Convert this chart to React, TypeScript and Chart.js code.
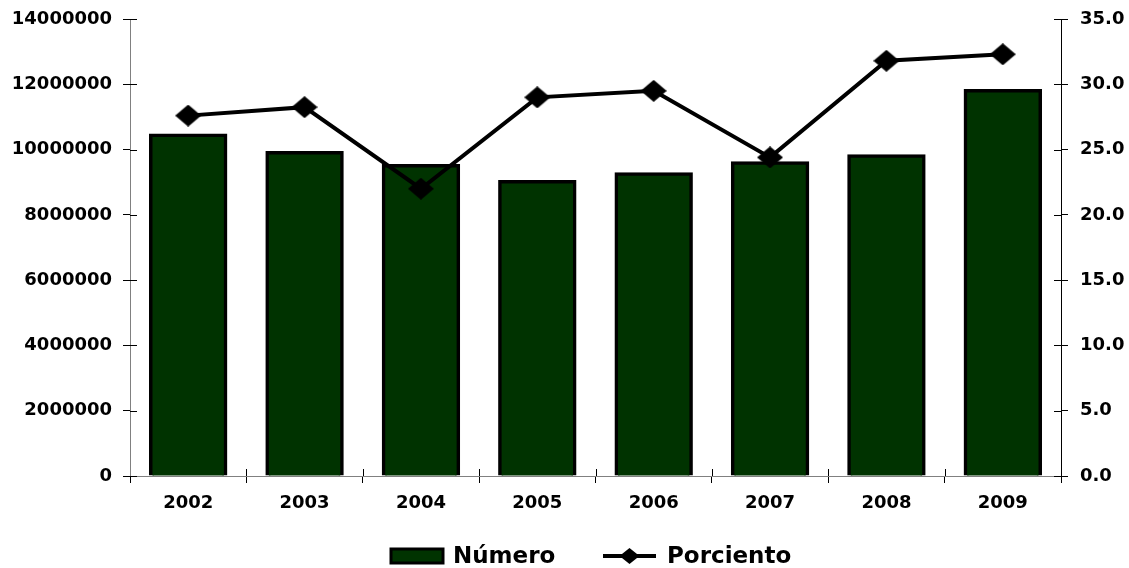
import React, { useEffect, useRef } from 'react';
import { Chart, registerables } from 'chart.js';
Chart.register(...registerables);

const categories = ['2002', '2003', '2004', '2005', '2006', '2007', '2008', '2009'];
const numero = [10470000, 9930000, 9530000, 9040000, 9280000, 9620000, 9830000, 11830000];
const porciento = [27.6, 28.25, 22.0, 29.0, 29.5, 24.4, 31.8, 32.3];
const seriesNames = ['Número', 'Porciento'];

const BAR_COLOR = '#003300';
const FONT = 'DejaVu Sans';

function makeDiamond(w: number, h: number) {
  const c = document.createElement('canvas');
  c.width = w;
  c.height = h;
  const ctx = c.getContext('2d')!;
  ctx.fillStyle = '#000';
  ctx.beginPath();
  ctx.moveTo(w / 2, 0);
  ctx.lineTo(w, h / 2);
  ctx.lineTo(w / 2, h);
  ctx.lineTo(0, h / 2);
  ctx.closePath();
  ctx.fill();
  return c;
}

const innerTicks = {
  id: 'innerTicks',
  afterDraw(chart: any) {
    const { ctx, chartArea } = chart;
    const y = chart.scales.y;
    const y1 = chart.scales.y1;
    const x = chart.scales.x;
    ctx.save();
    ctx.strokeStyle = '#000';
    ctx.lineWidth = 1;
    y.ticks.forEach((t: any) => {
      const py = Math.round(y.getPixelForValue(t.value)) + 0.5;
      ctx.beginPath();
      ctx.moveTo(chartArea.left, py);
      ctx.lineTo(chartArea.left + 7, py);
      ctx.stroke();
    });
    y1.ticks.forEach((t: any) => {
      const py = Math.round(y1.getPixelForValue(t.value)) + 0.5;
      ctx.beginPath();
      ctx.moveTo(chartArea.right - 7, py);
      ctx.lineTo(chartArea.right, py);
      ctx.stroke();
    });
    const n = categories.length;
    for (let i = 1; i < n; i++) {
      const px = Math.round((x.getPixelForValue(i - 1) + x.getPixelForValue(i)) / 2) + 0.5;
      ctx.beginPath();
      ctx.moveTo(px, chartArea.bottom - 7);
      ctx.lineTo(px, chartArea.bottom);
      ctx.stroke();
    }
    ctx.restore();
  },
};

const customLegend = {
  id: 'customLegend',
  afterDraw(chart: any) {
    const { ctx } = chart;
    const cy = 556;
    ctx.save();
    const x0 = 391;
    ctx.fillStyle = BAR_COLOR;
    ctx.fillRect(x0, cy - 7, 52, 14);
    ctx.strokeStyle = '#000';
    ctx.lineWidth = 3;
    ctx.strokeRect(x0, cy - 7, 52, 14);
    ctx.font = `bold 23px "${FONT}"`;
    ctx.fillStyle = '#000';
    ctx.textBaseline = 'middle';
    ctx.textAlign = 'left';
    ctx.fillText(seriesNames[0], x0 + 62, cy + 1);
    const lx = 603;
    ctx.beginPath();
    ctx.moveTo(lx, cy);
    ctx.lineTo(lx + 53, cy);
    ctx.lineWidth = 4;
    ctx.stroke();
    ctx.beginPath();
    const dx = lx + 26.5;
    ctx.moveTo(dx, cy - 8);
    ctx.lineTo(dx + 10, cy);
    ctx.lineTo(dx, cy + 8);
    ctx.lineTo(dx - 10, cy);
    ctx.closePath();
    ctx.fill();
    ctx.fillText(seriesNames[1], lx + 64, cy + 1);
    ctx.restore();
  },
};

export default function App() {
  const ref = useRef<HTMLCanvasElement>(null);
  useEffect(() => {
    const diamond = makeDiamond(26, 22);
    const tickFont = { family: FONT, size: 18, weight: 'bold' as const };
    const fitY = (w: number) => (s: any) => {
      s.width = w;
      s.paddingTop = 0;
      s.paddingBottom = 0;
    };
    const chart = new Chart(ref.current!, {
      type: 'bar',
      data: {
        labels: categories,
        datasets: [
          {
            type: 'line',
            label: seriesNames[1],
            data: porciento,
            yAxisID: 'y1',
            borderColor: '#000',
            borderWidth: 4,
            pointStyle: diamond as any,
            pointRadius: 12,
            backgroundColor: '#000',
            order: 1,
          } as any,
          {
            type: 'bar',
            label: seriesNames[0],
            data: numero,
            yAxisID: 'y',
            backgroundColor: BAR_COLOR,
            borderColor: '#000',
            borderWidth: 3.5,
            inflateAmount: 0.8,
            categoryPercentage: 1,
            barPercentage: 0.66,
            order: 2,
          } as any,
        ],
      },
      options: {
        responsive: false,
        animation: false,
        layout: { padding: { top: 19, bottom: 52, left: 0, right: 0 } },
        plugins: { legend: { display: false }, tooltip: { enabled: false } },
        scales: {
          x: {
            grid: { drawOnChartArea: false, tickLength: 7, color: '#000', offset: true },
            border: { color: '#808080', width: 1 },
            ticks: { font: tickFont, color: '#000', padding: 10 },
            afterFit: (s: any) => { s.height = 40; s.paddingLeft = 0; s.paddingRight = 0; },
          },
          y: {
            position: 'left',
            min: 0,
            max: 14000000,
            grid: { drawOnChartArea: false, tickLength: 7, color: '#000' },
            border: { color: '#808080', width: 1 },
            ticks: { stepSize: 2000000, font: tickFont, color: '#000', padding: 11, callback: (v: any) => String(v) },
            afterFit: fitY(130),
          },
          y1: {
            position: 'right',
            min: 0,
            max: 35,
            grid: { drawOnChartArea: false, tickLength: 7, color: '#000' },
            border: { color: '#000', width: 1 },
            ticks: { stepSize: 5, font: tickFont, color: '#000', padding: 12, callback: (v: any) => Number(v).toFixed(1) },
            afterFit: fitY(68),
          },
        },
      },
      plugins: [innerTicks, customLegend],
    });
    return () => chart.destroy();
  }, []);
  return (
    <div style={{ position: 'absolute', left: 0, top: 0, width: 1129, height: 568, background: '#fff' }}>
      <canvas ref={ref} width={1129} height={568} />
    </div>
  );
}
